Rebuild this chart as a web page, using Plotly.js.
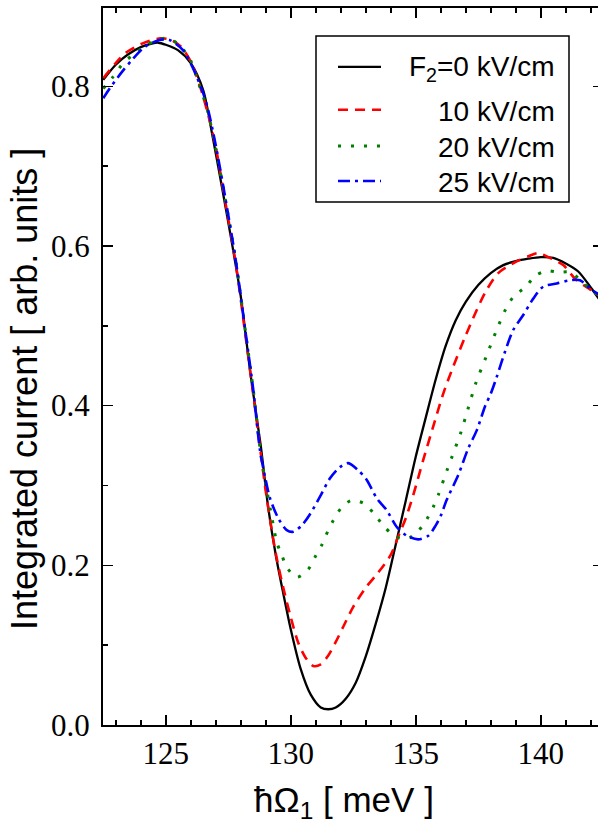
<!DOCTYPE html>
<html>
<head>
<meta charset="utf-8">
<script src="https://cdn.plot.ly/plotly-3.0.1.min.js"></script>
<style>
html,body{margin:0;padding:0;overflow:hidden;background:#fff;}
#chart{width:603px;height:825px;}
</style>
</head>
<body>
<div id="chart"></div>
<script>
// ---- data ----
var seriesNames = ["F<sub>2</sub>=0 kV/cm", "10 kV/cm", "20 kV/cm", "25 kV/cm"];
var xTitle = "ħΩ<sub>1</sub> [ meV ]";
var yTitle = "Integrated current [ arb. units ]";

var x0 = [122.5,123.0,123.5,124.0,124.4,124.7,125.0,125.5,126.0,126.5,126.85,127.2,127.6,128.0,128.4,128.8,129.1,129.4,129.7,130.0,130.4,130.8,131.2,131.5,131.8,132.2,132.6,133.0,133.4,133.8,134.2,134.6,135.0,135.4,135.8,136.2,136.6,137.0,137.5,138.0,138.5,139.0,139.5,140.0,140.5,141.0,141.5,142.0,142.5];
var y0 = [0.808,0.827,0.840,0.849,0.853,0.8545,0.852,0.845,0.829,0.795,0.741,0.682,0.612,0.537,0.437,0.350,0.272,0.213,0.165,0.120,0.070,0.038,0.022,0.0197,0.022,0.033,0.053,0.086,0.127,0.172,0.226,0.281,0.336,0.385,0.433,0.475,0.507,0.530,0.551,0.566,0.576,0.581,0.584,0.586,0.585,0.578,0.568,0.548,0.526];

var x10 = [122.5,123.0,123.4,124.1,124.8,125.2,125.6,126.0,126.4,126.7,127.0,127.4,127.8,128.2,128.6,129.0,129.4,129.7,130.0,130.3,130.6,130.9,131.2,131.5,131.8,132.1,132.5,133.0,133.5,134.0,134.3,134.6,134.9,135.3,135.7,136.1,136.5,137.0,137.4,137.8,138.3,139.0,139.5,139.9,140.3,140.9,141.4,142.0,142.5];
var y10 = [0.810,0.829,0.842,0.854,0.860,0.858,0.850,0.831,0.797,0.764,0.724,0.652,0.578,0.485,0.390,0.293,0.215,0.172,0.135,0.103,0.084,0.074,0.076,0.087,0.104,0.123,0.148,0.172,0.191,0.213,0.236,0.259,0.288,0.332,0.374,0.415,0.449,0.488,0.517,0.543,0.566,0.580,0.587,0.591,0.586,0.576,0.558,0.545,0.534];

var x20 = [122.5,122.9,123.3,123.8,124.25,124.7,125.0,125.5,126.0,126.3,126.65,127.0,127.4,127.8,128.2,128.5,128.8,129.0,129.25,129.45,129.65,129.85,130.25,130.7,131.0,131.25,131.5,131.7,132.0,132.4,132.9,133.35,133.75,134.2,134.65,135.1,135.45,135.7,135.9,136.25,136.45,136.8,137.1,137.4,137.8,138.2,138.6,138.9,139.4,139.8,140.25,140.7,141.2,141.65,142.0,142.5];
var y20 = [0.797,0.812,0.829,0.842,0.852,0.858,0.860,0.853,0.832,0.805,0.772,0.722,0.655,0.582,0.490,0.420,0.340,0.302,0.259,0.228,0.212,0.197,0.185,0.195,0.212,0.226,0.244,0.256,0.271,0.281,0.278,0.264,0.248,0.236,0.233,0.243,0.258,0.273,0.288,0.319,0.336,0.366,0.397,0.428,0.460,0.492,0.521,0.536,0.549,0.563,0.569,0.567,0.567,0.555,0.545,0.534];

var x25 = [122.5,122.75,123.25,123.65,124.15,124.75,125.15,125.7,126.1,126.5,126.7,127.0,127.4,127.8,128.2,128.5,128.77,128.97,129.17,129.5,129.84,130.1,130.44,130.77,131.17,131.57,131.97,132.3,132.7,133.04,133.44,133.84,134.24,134.64,135.1,135.5,135.8,136.0,136.24,136.7,137.1,137.44,137.77,138.0,138.24,138.57,138.9,139.3,139.7,140.1,140.64,141.17,141.57,142.04,142.5];
var y25 = [0.785,0.797,0.818,0.833,0.849,0.858,0.858,0.845,0.822,0.791,0.770,0.726,0.657,0.582,0.490,0.420,0.344,0.311,0.284,0.259,0.244,0.242,0.250,0.264,0.286,0.309,0.323,0.328,0.319,0.307,0.284,0.269,0.248,0.237,0.2325,0.237,0.250,0.262,0.282,0.313,0.3465,0.369,0.399,0.415,0.436,0.4675,0.4947,0.5135,0.534,0.549,0.553,0.557,0.557,0.545,0.536];

var xs = [x0, x10, x20, x25];
var ys = [y0, y10, y20, y25];

// ---- styles ----
var colors = ["#000000", "#ff0000", "#008000", "#0000ff"];
var widths = [2.3, 2.6, 3, 2.6];
var dashes = ["solid", "10px,7px", "3px,10px", "12px,5px,3px,5px"];
var sansFont = "Liberation Sans, Arial, sans-serif";

var traces = xs.map(function(xv, i){
  return {
    x: xv, y: ys[i], type: "scatter", mode: "lines", name: seriesNames[i],
    line: {color: colors[i], width: widths[i], dash: dashes[i], shape: "spline", smoothing: 0.8},
    showlegend: false, hoverinfo: "skip"
  };
});

// ---- manual legend (box, samples, labels) ----
var legX0 = 0.426, legX1 = 0.932, legY0 = 0.7294, legY1 = 0.961;
var sampX0 = 0.47, sampX1 = 0.556;
var rowY = [0.918, 0.858, 0.8075, 0.7587];
var textRowY = [0.916, 0.856, 0.8055, 0.7567];
var shapes = [{
  type: "rect", xref: "paper", yref: "paper", x0: legX0, x1: legX1, y0: legY0, y1: legY1,
  line: {color: "#000", width: 1.5}, fillcolor: "rgba(255,255,255,1)", layer: "above"
}];
var annotations = [];
for (var i = 0; i < 4; i++) {
  shapes.push({
    type: "line", xref: "paper", yref: "paper", x0: sampX0, x1: sampX1, y0: rowY[i], y1: rowY[i],
    line: {color: colors[i], width: widths[i], dash: dashes[i]}, layer: "above"
  });
  annotations.push({
    xref: "paper", yref: "paper", x: 0.908, y: textRowY[i], xanchor: "right", yanchor: "middle",
    text: seriesNames[i], showarrow: false,
    font: {family: sansFont, size: 28, color: "#000"}
  });
}
// axis titles (placed as annotations for exact positioning)
annotations.push({
  xref: "paper", yref: "paper", x: 0.481, y: -0.108, xanchor: "center", yanchor: "middle",
  text: xTitle, showarrow: false, font: {family: sansFont, size: 35, color: "#000"}
});
annotations.push({
  xref: "paper", yref: "paper", x: -0.158, y: 0.4686, xanchor: "center", yanchor: "middle",
  text: yTitle, textangle: -90, showarrow: false, font: {family: sansFont, size: 36, color: "#000"}
});

var axisCommon = {
  showline: true, linecolor: "#000", linewidth: 2, mirror: "ticks",
  ticks: "inside", ticklen: 10, tickwidth: 1.5, tickcolor: "#000",
  showgrid: false, zeroline: false, automargin: false,
  tickfont: {family: "Liberation Serif, Times New Roman, serif", size: 31, color: "#000"}
};

var layout = {
  width: 603, height: 825,
  margin: {l: 103, r: 0, t: 8, b: 100, pad: 0},
  paper_bgcolor: "#fff", plot_bgcolor: "#fff",
  showlegend: false,
  xaxis: Object.assign({}, axisCommon, {
    range: [122.49, 142.49], dtick: 5, tick0: 125,
    ticklabelstandoff: 0,
    minor: {dtick: 1, ticklen: 5, tickwidth: 1.5, tickcolor: "#000", ticks: "inside"}
  }),
  yaxis: Object.assign({}, axisCommon, {
    range: [0, 0.898], dtick: 0.2, tick0: 0, tickformat: ".1f",
    ticklabelstandoff: 5,
    minor: {dtick: 0.1, ticklen: 5, tickwidth: 1.5, tickcolor: "#000", ticks: "inside"}
  }),
  shapes: shapes,
  annotations: annotations
};

Plotly.newPlot("chart", traces, layout, {staticPlot: true, displayModeBar: false});
</script>
</body>
</html>
